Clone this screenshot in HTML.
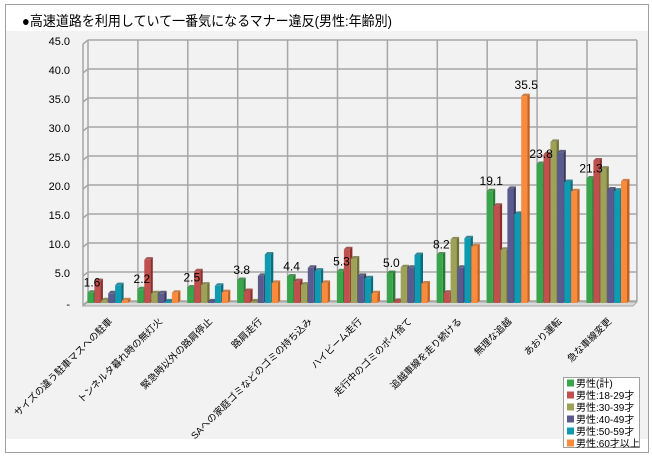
<!DOCTYPE html>
<html><head><meta charset="utf-8"><style>
html,body{margin:0;padding:0;background:#fff;}
svg{display:block;font-family:"Liberation Sans","Noto Sans CJK JP",sans-serif;}
</style></head><body>
<svg id="s" width="652" height="458" xmlns="http://www.w3.org/2000/svg">
<rect x="5.5" y="4.5" width="643" height="448" fill="#fff" stroke="#a0a0a0"/>
<rect x="6" y="31" width="642" height="408" fill="#f2f2f2"/>
<text x="22" y="26" font-size="14" fill="#000" textLength="370" lengthAdjust="spacingAndGlyphs">●高速道路を利用していて一番気になるマナー違反(男性:年齢別)</text>
<g id="g"></g>
</svg>
<script>
var g=document.getElementById('g'),h='';
var base=302,k=5.8,x0=88,pw=49.9,n=11;
for(var i=0;i<=9;i++){var v=i*5,y=base-v*k;
 h+='<text x="70" y="'+(y+4+(i==0?2:0))+'" font-size="11" text-anchor="end">'+(i==0?'-':v.toFixed(1))+'</text>';
 h+='<line x1="'+x0+'" y1="'+(y-1)+'" x2="'+(x0+n*pw)+'" y2="'+(y-1)+'" stroke="#a6a6a6" stroke-width="1.5"/>';
 h+='<line x1="83" y1="'+(y+3)+'" x2="'+x0+'" y2="'+(y-1)+'" stroke="#a6a6a6" stroke-width="1.5"/>';}
for(var c=0;c<=n;c++){var x=x0+c*pw;h+='<line x1="'+x+'" y1="'+(base-45*k-1)+'" x2="'+x+'" y2="'+(base-1)+'" stroke="#a6a6a6" stroke-width="1.5"/>';}
h+='<line x1="83" y1="'+(base-45*k+3)+'" x2="83" y2="'+(base+4)+'" stroke="#a6a6a6" stroke-width="1.5"/>';
h+='<polygon points="83,'+(base+4)+' '+x0+','+base+' '+(x0+n*pw)+','+base+' '+(x0+n*pw-4)+','+(base+4)+'" fill="#d9d9d9" stroke="#a6a6a6"/>';
var cols=[['#3aa64c','#267a34'],['#c0504d','#8c2f2c'],['#9ea158','#6f7236'],['#5b5a8e','#3a3962'],['#0e9bb1','#086e7e'],['#fb8b3c','#c3621e']];
var d=[[1.6,3.6,0.3,1.5,2.9,0.3],[2.2,7.3,1.5,1.5,0.1,1.6],[2.5,5.3,3.0,0.1,2.8,1.7],[3.8,1.9,0.1,4.5,8.2,3.3],[4.4,3.6,3.0,5.9,5.4,3.3],[5.3,9.1,7.5,4.5,4.1,1.5],[5.0,0.2,6.0,5.9,8.1,3.2],[8.2,1.6,10.8,5.9,11.0,9.6],[19.1,16.6,9.0,19.5,15.2,35.5],[23.8,25.5,27.6,25.8,20.7,19.1],[21.3,24.4,23.0,19.4,19.2,20.8]];
var labs=['サイズの違う駐車マスへの駐車','トンネルタ暮れ時の無灯火','緊急時以外の路肩停止','路肩走行','SAへの家庭ゴミなどのゴミの持ち込み','ハイビーム走行','走行中のゴミのポイ捨て','追越車線を走り続ける','無理な追越','あおり運転','急な車線変更'];
for(var c=0;c<n;c++){for(var j=0;j<6;j++){var v=d[c][j],bx=x0+c*pw+j*6.9-0.5,w=6,t=base-v*k,bb=base+1;
 h+='<polygon points="'+(bx+w)+','+bb+' '+(bx+w+2.5)+','+(bb-2.5)+' '+(bx+w+2.5)+','+(t-2.5)+' '+(bx+w)+','+t+'" fill="'+cols[j][1]+'"/>';
 h+='<polygon points="'+bx+','+t+' '+(bx+2.5)+','+(t-2.5)+' '+(bx+w+2.5)+','+(t-2.5)+' '+(bx+w)+','+t+'" fill="'+cols[j][1]+'" opacity="0.8"/>';
 h+='<rect x="'+bx+'" y="'+t+'" width="'+w+'" height="'+(bb-t)+'" fill="'+cols[j][0]+'"/>';}
 var lx=x0+c*pw+4,ly=base-d[c][0]*k-6;
 h+='<text x="'+lx+'" y="'+ly+'" font-size="12" text-anchor="middle">'+d[c][0].toFixed(1)+'</text>';
 var cx=x0+c*pw+pw/2;
 h+='<text transform="translate('+cx+',322) rotate(-45)" font-size="9.6" text-anchor="end">'+labs[c]+'</text>';}
h+='<text x="'+(x0+8*pw+39)+'" y="'+(base-35.5*k-7)+'" font-size="12" text-anchor="middle">35.5</text>';
h+='<rect x="563.5" y="377.5" width="76" height="70" fill="#fff" stroke="#a0a0a0"/>';
var ln=['男性(計)','男性:18-29才','男性:30-39才','男性:40-49才','男性:50-59才','男性:60才以上'];
for(var j=0;j<6;j++){var y=383+j*12;h+='<rect x="567" y="'+(y-3.5)+'" width="7" height="7" fill="'+cols[j][0]+'"/><text x="576" y="'+(y+4)+'" font-size="10">'+ln[j]+'</text>';}
g.innerHTML=h;
</script>
</body></html>
